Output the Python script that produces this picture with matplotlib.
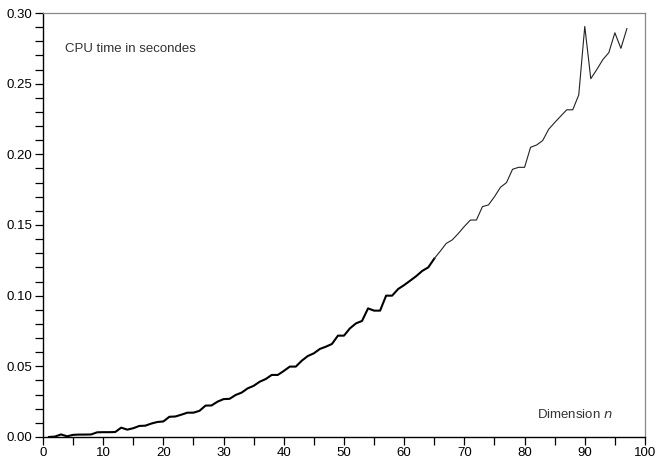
import matplotlib
matplotlib.use('Agg')
import matplotlib.pyplot as plt
import numpy as np
from matplotlib.ticker import MultipleLocator

# Dimension n et temps CPU
n = list(range(1, 98))
cpu_time = [
    0.0000, 0.0003, 0.0018, 0.0005, 0.0015, 0.0017, 0.0017, 0.0018, 0.0033, 0.0034,
    0.0034, 0.0035, 0.0066, 0.0052, 0.0062, 0.0078, 0.0080, 0.0095, 0.0106, 0.0110,
    0.0143, 0.0145, 0.0158, 0.0172, 0.0172, 0.0185, 0.0222, 0.0223, 0.0250, 0.0268,
    0.0270, 0.0297, 0.0314, 0.0344, 0.0362, 0.0391, 0.0410, 0.0439, 0.0439, 0.0467,
    0.0498, 0.0498, 0.0540, 0.0573, 0.0592, 0.0623, 0.0639, 0.0658, 0.0717, 0.0717,
    0.0769, 0.0804, 0.0821, 0.0910, 0.0894, 0.0894, 0.1000, 0.1000, 0.1047, 0.1075,
    0.1106, 0.1138, 0.1175, 0.1200, 0.1262, 0.1315, 0.1370, 0.1395, 0.1440, 0.1490,
    0.1535, 0.1535, 0.1630, 0.1642, 0.1700, 0.1767, 0.1800, 0.1894, 0.1908, 0.1908,
    0.2050, 0.2066, 0.2097, 0.2177, 0.2225, 0.2270, 0.2315, 0.2315, 0.2420, 0.2905,
    0.2535, 0.2600, 0.2670, 0.2720, 0.2860, 0.2750, 0.2890,
]

plt.rcParams['font.family'] = ['Liberation Sans', 'DejaVu Sans']

fig = plt.figure(figsize=(6.58, 4.61), dpi=100)
ax = fig.add_axes([0.0653, 0.0521, 0.9149, 0.9197])

# trait plus epais en bas, plus fin en haut (comme l'original)
k = 65
ax.plot(n[:k], cpu_time[:k], color='black', lw=1.5, solid_joinstyle='round')
ax.plot(n[k - 1:], cpu_time[k - 1:], color='#222222', lw=0.8)

ax.set_xlim(0, 100)
ax.set_ylim(0, 0.30)
ax.xaxis.set_major_locator(MultipleLocator(10))
ax.xaxis.set_minor_locator(MultipleLocator(5))
ax.yaxis.set_major_locator(MultipleLocator(0.05))
ax.yaxis.set_minor_locator(MultipleLocator(0.01))
ax.yaxis.set_major_formatter(matplotlib.ticker.FormatStrFormatter('%.2f'))

ax.tick_params(which='both', direction='out', length=6, width=0.9,
               labelsize=9.5, pad=1.5, colors='black')

ax.spines['top'].set_color('#888888')
ax.spines['right'].set_color('#888888')
ax.spines['top'].set_linewidth(0.9)
ax.spines['right'].set_linewidth(0.9)
ax.spines['left'].set_linewidth(1.0)
ax.spines['bottom'].set_linewidth(1.0)

ax.text(0.036, 0.915, 'CPU time in secondes', transform=ax.transAxes,
        fontsize=9.5, color='#333333', va='center', ha='left')
ax.text(0.947, 0.052, 'Dimension $n$', transform=ax.transAxes,
        fontsize=9.5, color='#333333', va='center', ha='right')

fig.savefig('out.png', dpi=100)
